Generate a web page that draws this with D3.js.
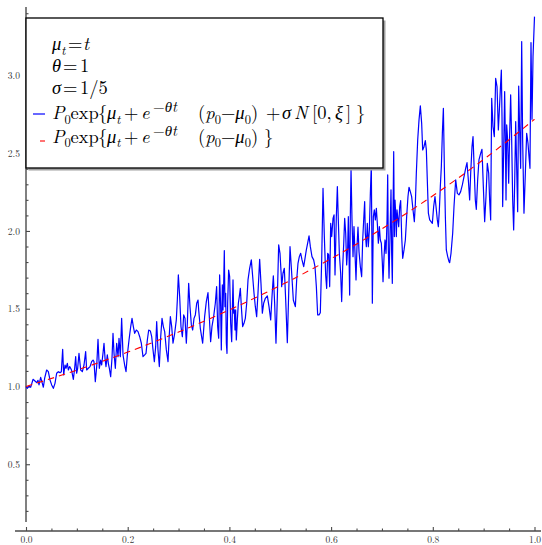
<!DOCTYPE html>
<html>
<head>
<meta charset="utf-8">
<script src="https://cdn.jsdelivr.net/npm/d3@7"></script>
<style>
  body { margin: 0; background: #fff; }
  svg { display: block; }
</style>
</head>
<body>
<svg id="chart" width="542" height="545"></svg>
<script>
// Simulated path: sample times and values
const times = [
  0.0000,0.0026,0.0059,0.0092,0.0138,0.0177,0.0210,0.0236,0.0256,0.0288,0.0321,0.0341,0.0367,0.0406,0.0439,0.0472,
  0.0505,0.0538,0.0570,0.0603,0.0636,0.0669,0.0695,0.0721,0.0741,0.0767,0.0787,0.0813,0.0833,0.0859,0.0878,0.0898,
  0.0931,0.0957,0.0977,0.0996,0.1016,0.1042,0.1075,0.1108,0.1141,0.1173,0.1193,0.1226,0.1259,0.1291,0.1318,0.1337,
  0.1363,0.1390,0.1416,0.1442,0.1468,0.1488,0.1514,0.1534,0.1554,0.1573,0.1599,0.1619,0.1639,0.1665,0.1691,0.1711,
  0.1731,0.1757,0.1783,0.1810,0.1829,0.1855,0.1881,0.1908,0.1940,0.1967,0.1993,0.2026,0.2059,0.2085,0.2111,0.2137,
  0.2170,0.2203,0.2236,0.2268,0.2301,0.2334,0.2360,0.2386,0.2413,0.2445,0.2472,0.2498,0.2524,0.2550,0.2570,0.2596,
  0.2622,0.2649,0.2675,0.2701,0.2727,0.2760,0.2793,0.2812,0.2839,0.2865,0.2891,0.2924,0.2956,0.2976,0.2996,0.3022,
  0.3048,0.3075,0.3101,0.3127,0.3153,0.3173,0.3199,0.3225,0.3252,0.3278,0.3304,0.3330,0.3357,0.3383,
  0.3396,0.3428,0.3474,0.3513,0.3546,0.3579,0.3605,0.3631,0.3657,0.3690,0.3723,0.3749,0.3769,0.3789,0.3808,0.3828,
  0.3841,0.3861,0.3874,0.3887,0.3900,0.3913,0.3927,0.3940,0.3953,0.3966,0.3985,0.4005,0.4025,0.4045,0.4058,0.4071,
  0.4084,0.4097,0.4110,0.4123,0.4136,0.4156,0.4176,0.4195,0.4215,0.4235,0.4261,0.4287,0.4313,0.4340,0.4366,0.4398,
  0.4431,0.4458,0.4484,0.4510,0.4536,0.4562,0.4595,0.4621,0.4648,0.4674,0.4707,0.4746,0.4779,0.4812,0.4838,0.4864,
  0.4890,0.4916,0.4943,0.4969,0.4995,0.5021,
  0.5028,0.5054,0.5080,0.5107,0.5139,0.5166,0.5192,0.5225,0.5257,0.5297,0.5323,0.5349,0.5375,0.5402,0.5428,0.5461,
  0.5487,0.5513,0.5539,0.5566,0.5592,0.5624,0.5657,0.5683,0.5710,0.5736,0.5762,0.5788,0.5815,0.5841,0.5867,0.5893,
  0.5913,0.5933,0.5953,0.5972,0.5992,0.6012,0.6038,0.6058,0.6077,0.6103,0.6123,0.6142,0.6162,0.6188,0.6208,0.6228,
  0.6247,0.6267,0.6287,0.6306,0.6326,0.6339,0.6352,0.6365,0.6378,0.6392,0.6411,0.6431,0.6450,0.6470,0.6490,0.6509,
  0.6529,0.6549,0.6575,0.6601,0.6621,0.6641,0.6660,
  0.6673,0.6693,0.6712,0.6732,0.6752,0.6772,0.6791,0.6811,0.6831,0.6850,0.6870,0.6890,0.6909,0.6929,0.6949,0.6968,
  0.6988,0.7008,0.7021,0.7041,0.7060,0.7080,0.7100,0.7113,0.7126,0.7139,0.7158,0.7178,0.7191,0.7204,0.7217,0.7231,
  0.7244,0.7257,0.7270,0.7283,0.7296,0.7309,0.7329,0.7349,0.7368,0.7388,0.7408,0.7434,0.7460,0.7486,0.7512,0.7532,
  0.7558,0.7584,0.7611,0.7637,0.7657,0.7676,0.7703,0.7729,0.7755,0.7781,0.7801,0.7827,0.7853,0.7873,0.7893,0.7913,
  0.7939,0.7965,0.7991,0.8017,0.8043,0.8063,0.8089,0.8109,0.8129,0.8148,0.8168,0.8188,0.8208,0.8227,0.8247,0.8266,
  0.8293,0.8319,
  0.8332,0.8358,0.8391,0.8417,0.8450,0.8483,0.8515,0.8548,0.8581,0.8614,0.8646,0.8673,0.8699,0.8725,0.8745,0.8771,
  0.8791,0.8817,0.8836,0.8856,0.8882,0.8908,0.8941,0.8967,0.8994,0.9020,0.9046,0.9072,0.9099,0.9118,0.9138,0.9158,
  0.9184,0.9210,0.9236,0.9263,0.9289,0.9309,0.9328,0.9348,0.9361,0.9374,0.9394,0.9413,0.9426,0.9440,0.9453,0.9472,
  0.9492,0.9512,0.9531,0.9551,0.9571,0.9590,0.9610,0.9630,0.9649,0.9669,0.9689,0.9708,0.9728,0.9748,0.9767,0.9793,
  0.9820,0.9846,0.9872,0.9892,0.9911,0.9931,0.9951,0.9971,1.0000
];
const pathValues = [
  1.000,0.988,1.003,0.995,1.046,1.035,1.025,1.040,1.010,1.059,1.020,0.995,1.053,1.106,1.095,1.042,
  1.010,0.988,1.020,1.085,1.095,1.089,1.095,1.239,1.074,1.138,1.117,1.149,1.106,1.128,1.117,1.102,
  1.046,1.117,1.192,1.085,1.117,1.213,1.106,1.095,1.138,1.224,1.106,1.117,1.128,1.160,1.170,1.160,
  1.031,1.128,1.303,1.117,1.170,1.138,1.213,1.278,1.181,1.128,1.203,1.149,1.117,1.063,1.181,1.342,
  1.213,1.117,1.278,1.192,1.310,1.192,1.438,1.203,1.138,1.095,1.203,1.299,1.385,1.438,1.385,1.342,
  1.363,1.353,1.320,1.278,1.192,1.203,1.213,1.299,1.363,1.357,1.320,1.235,1.160,1.256,1.417,1.235,
  1.128,1.320,1.438,1.385,1.353,1.235,1.160,1.299,1.449,1.385,1.278,1.342,1.428,1.556,1.717,1.578,
  1.385,1.320,1.460,1.438,1.278,1.406,1.663,1.513,1.396,1.363,1.438,1.460,1.535,1.556,
  1.492,1.374,1.278,1.449,1.546,1.603,1.449,1.288,1.385,1.449,1.535,1.642,1.385,1.310,1.717,1.513,
  1.235,1.653,1.492,1.653,1.874,1.513,1.599,1.278,1.213,1.535,1.749,1.706,1.406,1.288,1.492,1.685,
  1.471,1.492,1.363,1.492,1.299,1.428,1.535,1.578,1.631,1.513,1.385,1.406,1.438,1.535,1.685,1.760,
  1.814,1.706,1.599,1.513,1.449,1.599,1.818,1.663,1.471,1.535,1.567,1.582,1.513,1.428,1.578,1.711,
  1.535,1.278,1.578,1.910,1.856,1.706,
  1.642,1.728,1.760,1.556,1.282,1.599,1.899,1.728,1.556,1.513,1.685,1.792,1.835,1.856,1.814,1.771,
  1.824,1.878,1.921,1.968,1.899,1.835,1.814,1.771,1.642,1.460,1.460,1.475,1.814,2.274,1.964,1.717,
  1.631,1.856,1.846,1.642,2.049,1.964,2.081,2.103,1.717,2.092,2.285,2.071,1.856,1.728,1.546,1.771,
  1.910,2.081,1.985,1.781,1.889,2.092,1.856,1.588,2.092,2.397,2.071,1.835,2.028,1.856,1.685,1.899,
  2.024,1.867,1.771,1.706,1.942,2.071,2.189,
  1.985,1.899,2.049,1.899,2.006,2.242,2.424,1.535,2.092,2.135,2.071,2.146,2.049,1.921,2.028,1.942,
  1.921,1.792,1.674,1.835,1.942,1.856,2.071,2.360,1.878,1.696,1.964,2.264,1.856,1.663,2.092,2.510,
  1.964,2.199,2.114,1.964,2.135,2.092,2.028,2.157,2.195,1.964,1.824,1.878,1.942,2.092,2.221,2.281,
  2.253,2.221,2.135,2.060,2.178,2.371,2.585,2.714,2.804,2.692,2.521,2.542,2.581,2.521,2.317,2.114,
  2.071,2.060,2.049,2.157,2.221,2.157,2.071,2.028,2.135,2.285,2.414,2.628,2.789,2.414,2.092,1.878,
  1.835,1.803,
  1.796,1.856,1.985,2.157,2.328,2.242,2.232,2.253,2.296,2.349,2.403,2.439,2.328,2.199,2.371,2.542,
  2.607,2.371,2.199,2.139,2.328,2.457,2.499,2.525,2.285,2.060,2.221,2.435,2.371,2.199,2.071,2.853,
  2.671,2.607,2.982,2.928,2.650,2.778,2.907,3.035,2.735,2.157,2.521,2.896,2.607,2.199,2.682,2.585,
  2.307,2.628,2.875,2.585,2.199,2.006,2.307,2.703,2.414,2.124,2.932,2.650,2.403,3.218,2.585,2.114,
  2.371,2.628,2.564,2.478,2.403,3.211,2.718,3.121,3.378
];

// Deterministic drift curve
const driftTimes  = [0, 0.1, 0.2, 0.3, 0.4, 0.5, 0.6, 0.7, 0.8, 0.9, 1.0];
const driftValues = [1.000, 1.105, 1.221, 1.350, 1.492, 1.649, 1.822, 2.014, 2.226, 2.460, 2.718];

// Axis ticks
const xTicks = [0, 0.2, 0.4, 0.6, 0.8, 1.0];
const xMinorTicks = [0.05, 0.1, 0.15, 0.25, 0.3, 0.35, 0.45, 0.5, 0.55, 0.65, 0.7, 0.75, 0.85, 0.9, 0.95];
const yTicks = [0.5, 1.0, 1.5, 2.0, 2.5, 3.0];
const yMinorTicks = [0.2, 0.3, 0.4, 0.6, 0.7, 0.8, 0.9, 1.1, 1.2, 1.3, 1.4, 1.6, 1.7, 1.8, 1.9,
                     2.1, 2.2, 2.3, 2.4, 2.6, 2.7, 2.8, 2.9, 3.1, 3.2, 3.3, 3.4];

const svg = d3.select("#chart");
const mathFont = '"Latin Modern Roman", "CMU Serif", "Liberation Serif", serif';
const axisColor = "#4a4a4a";

const x = d3.scaleLinear().domain([0, 1]).range([26, 534.5]);
const y = d3.scaleLinear().domain([0, 3.44]).range([542, 7]);
const axisY = 531;

// ---- axes ----
const gx = svg.append("g").attr("transform", `translate(0,${axisY})`);
gx.append("g").call(d3.axisBottom(x).tickValues(xMinorTicks).tickSize(-2.5).tickFormat(""));
gx.append("g").call(d3.axisBottom(x).tickValues(xTicks).tickSize(-4).tickPadding(5).tickFormat(d3.format(".1f")));
gx.selectAll(".domain").remove();
gx.append("line").attr("x1", 15).attr("x2", 541).attr("y1", 0).attr("y2", 0)
  .attr("stroke", axisColor).attr("stroke-width", 1.4);

const gy = svg.append("g").attr("transform", `translate(${x(0)},0)`);
gy.append("g").call(d3.axisLeft(y).tickValues(yMinorTicks).tickSize(-2.5).tickFormat(""));
gy.append("g").call(d3.axisLeft(y).tickValues(yTicks).tickSize(-4).tickPadding(6).tickFormat(d3.format(".1f")));
gy.selectAll(".domain").remove();
gy.append("line").attr("x1", 0).attr("x2", 0).attr("y1", 7).attr("y2", 522)
  .attr("stroke", axisColor).attr("stroke-width", 1.4);

svg.selectAll(".tick line").attr("stroke", axisColor).attr("stroke-width", 1.1);
svg.selectAll(".tick text")
  .style("font-family", mathFont).style("font-size", "9.5px").attr("fill", "#333");

// ---- series ----
const pathPoints = times.map((t, i) => [t, pathValues[i]]);
const driftPoints = driftTimes.map((t, i) => [t, driftValues[i]]);

svg.append("path")
  .datum(pathPoints)
  .attr("fill", "none")
  .attr("stroke", "#0000ff")
  .attr("stroke-width", 1.2)
  .attr("stroke-linejoin", "round")
  .attr("d", d3.line().x(d => x(d[0])).y(d => y(d[1])));

svg.append("path")
  .datum(driftPoints)
  .attr("fill", "none")
  .attr("stroke", "#ff0000")
  .attr("stroke-width", 1.1)
  .attr("stroke-dasharray", "6.5,5")
  .attr("d", d3.line().curve(d3.curveMonotoneX).x(d => x(d[0])).y(d => y(d[1])));

// ---- legend ----
const legend = svg.append("g");
legend.append("rect").attr("x", 28.5).attr("y", 20.5).attr("width", 357).attr("height", 150)
  .attr("fill", "#a0a0a0");
legend.append("rect").attr("x", 26).attr("y", 18).attr("width", 357).attr("height", 150)
  .attr("fill", "#fff").attr("stroke", "#000").attr("stroke-width", 1.3);

// Each part is one glyph run; x pins it, lvl raises or lowers it
function mathText(parent, baseline, parts) {
  const text = parent.append("text").attr("fill", "#000").style("font-family", mathFont);
  parts.forEach(p => {
    const lvl = p.lvl || "base";
    const shift = { base: 0, sub: 4.5, sup: -7 }[lvl];
    const size = p.fs || (lvl === "base" ? 18.5 : 12.5);
    const ts = text.append("tspan").text(p.s)
      .attr("y", baseline + shift).style("font-size", size + "px");
    if (p.x !== undefined) ts.attr("x", p.x);
    if (p.it) ts.style("font-style", "italic");
  });
}

mathText(legend, 50, [
  { s: "μ", x: 52, it: 1 }, { s: "t", lvl: "sub", it: 1 },
  { s: "=", x: 68 }, { s: "t", x: 83, it: 1 }
]);
mathText(legend, 72, [
  { s: "θ", x: 52, it: 1 }, { s: "=", x: 63 }, { s: "1", x: 80 }
]);
mathText(legend, 94, [
  { s: "σ", x: 52, it: 1 }, { s: "=", x: 63 }, { s: "1/5", x: 80 }
]);

const exponentHead = [
  { s: "P", x: 52, it: 1 }, { s: "0", lvl: "sub" },
  { s: "exp", x: 70.5 }, { s: "{", x: 98 },
  { s: "μ", x: 107, it: 1 }, { s: "t", lvl: "sub", it: 1 },
  { s: "+", x: 124 }, { s: "e", x: 141, it: 1 },
  { s: "−", x: 153, lvl: "sup", fs: 15 }, { s: "θ", lvl: "sup", it: 1, fs: 15 },
  { s: "t", lvl: "sup", it: 1, fs: 15 },
  { s: "(", x: 198 }, { s: "p", it: 1 }, { s: "0", lvl: "sub" },
  { s: "−" }, { s: "μ", it: 1 }, { s: "0", lvl: "sub" }, { s: ")" }
];
mathText(legend, 119, exponentHead.concat([
  { s: "+", x: 266 }, { s: "σ", x: 282, it: 1 }, { s: "N", x: 294, it: 1 },
  { s: "[", x: 312 }, { s: "0" }, { s: "," }, { s: "ξ", x: 335, it: 1 },
  { s: "]", x: 346 }, { s: "}", x: 356 }
]));
mathText(legend, 142.5, exponentHead.concat([{ s: "}", x: 264 }]));

legend.append("line").attr("x1", 33).attr("x2", 45).attr("y1", 114).attr("y2", 114)
  .attr("stroke", "#0000ff").attr("stroke-width", 1.2);
legend.append("line").attr("x1", 40).attr("x2", 45).attr("y1", 141).attr("y2", 141)
  .attr("stroke", "#ff0000").attr("stroke-width", 1.1);
</script>
</body>
</html>
